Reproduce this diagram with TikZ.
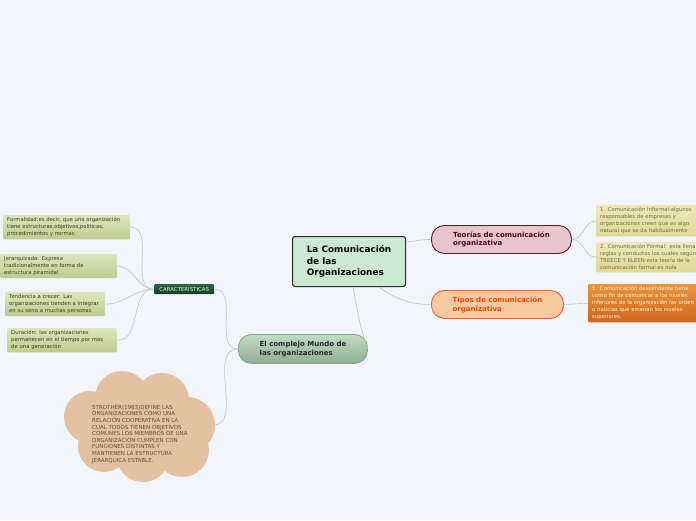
\documentclass[tikz,border=0pt]{standalone}
\usepackage{fontspec}
\setmainfont{DejaVu Sans}
\usetikzlibrary{positioning}
\definecolor{bgblue}{HTML}{F2F5FE}
\definecolor{linkgray}{HTML}{C2C4CC}
\definecolor{rootfill}{HTML}{CBE8D0}
\definecolor{rootline}{HTML}{2A2A2A}
\definecolor{teofill}{HTML}{E8C5CC}
\definecolor{teoline}{HTML}{5C1A2C}
\definecolor{teotext}{HTML}{4A0A1E}
\definecolor{tipfill}{HTML}{F9C9A0}
\definecolor{tipline}{HTML}{FF5A28}
\definecolor{tiptext}{HTML}{F04A10}
\definecolor{mundtop}{HTML}{C0DCC2}
\definecolor{mundbot}{HTML}{8FAE91}
\definecolor{mundline}{HTML}{8AA88C}
\definecolor{cartop}{HTML}{2E6242}
\definecolor{carbot}{HTML}{173C24}
\definecolor{leaftop}{HTML}{DDE5BB}
\definecolor{leafbot}{HTML}{BFCB90}
\definecolor{leaftext}{HTML}{3A3A20}
\definecolor{yeltop}{HTML}{EEE8B8}
\definecolor{yelbot}{HTML}{E0D898}
\definecolor{yeltext}{HTML}{6E6E40}
\definecolor{orgtop}{HTML}{EA943C}
\definecolor{orgbot}{HTML}{D0661A}
\definecolor{cloudfill}{HTML}{E3C1A1}
\definecolor{cloudtext}{HTML}{6A4C36}

\begin{document}
\begin{tikzpicture}[x=1pt,y=-1pt,
 link/.style={draw=linkgray,line width=0.6pt},
 root/.style={draw=rootline,fill=rootfill,line width=1.1pt,rounded corners=2.5pt,
  align=left,font=\bfseries\fontsize{8.9}{11.5}\selectfont,minimum width=113pt,
  minimum height=50pt,inner sep=0pt,anchor=north west},
 pill/.style={rounded corners=13pt,line width=0.9pt,align=left,
  font=\bfseries\fontsize{7}{9}\selectfont,minimum height=28pt,inner sep=0pt,anchor=north west},
 leaf/.style={top color=leaftop,bottom color=leafbot,text=leaftext,align=left,
  anchor=north west,font=\fontsize{5.3}{7}\selectfont,text width=#1,
  inner xsep=4pt,inner ysep=2.4pt,rounded corners=1pt},
 yleaf/.style={leaf=#1,top color=yeltop,bottom color=yelbot,text=yeltext},
 puff/.style={fill=cloudfill}]

\fill[bgblue] (0,0) rectangle (696,520);
\useasboundingbox (0,0) rectangle (696,520);

\node[root] (root) at (292,236) {La Comunicación\\de las\\Organizaciones};

\node[pill,draw=teoline,fill=teofill,text=teotext,minimum width=140pt] (teo) at (431,225)
 {Teorías de comunicación\\organizativa};
\node[pill,draw=tipline,fill=tipfill,text=tiptext,minimum width=132pt] (tip) at (431,290)
 {Tipos de comunicación\\organizativa};
\node[pill,draw=mundline,top color=mundtop,bottom color=mundbot,text=black!85,
 minimum width=129pt,minimum height=29pt] (mund) at (238,334)
 {El complejo Mundo de\\las organizaciones};

\node[yleaf=100pt] (inform) at (596,205) {1. Comunicación Informal:algunos\\responsables de empresas y\\organizaciones creen que es algo\\natural que se da habitualmente};
\node[yleaf=100pt] (formal) at (596,242) {2. Comunicación Formal: esta llena\\reglas y conductos los cuales según\\TREECE Y KLEEN esta teoría de la\\comunicación formal es nula};
\node[leaf=108pt,top color=orgtop,bottom color=orgbot,text=white!92!orange] (desc) at (588,284)
 {1. Comunicación descendente:tiene\\como fin de comunicar a los niveles\\inferiores de la organización las orden\\o noticias que emanan los niveles\\superiores.};

\node[top color=cartop,bottom color=carbot,text=white!85!green,rounded corners=1pt,
 font=\fontsize{5.4}{6}\selectfont,minimum width=60pt,minimum height=10pt,inner sep=0pt,
 anchor=north west] (car) at (154,284) {CARACTERÍSTICAS};

\node[leaf=119pt] (forma) at (3,215) {Formalidad:es decir, que una organización\\tiene estructuras,objetivos,politicas,\\procedimientos y normas};
\node[leaf=109pt] (jer) at (0,254) {Jerarquizada: Expresa\\tradicionalmente en forma de\\estructura piramidal};
\node[leaf=92pt] (tend) at (5,292) {Tendencia a crecer: Las\\organizaciones tienden a integrar\\en su seno a muchas personas};
\node[leaf=102pt] (dur) at (7,328) {Duración: las organizaciones\\permanecen en el tiempo por mas\\de una generación};

\foreach \cx/\cy/\r in {122/398/27,162/400/27,90/417/26,187/425/28,104/446/26,143/455/27,182/450/27}
 \fill[puff] (\cx,\cy) circle (\r);
\fill[puff] (140,425) ellipse (52 and 36);
\coordinate (cloudtip) at (213,425);
\node[text=cloudtext,align=left,anchor=north west,inner sep=0pt,
 font=\fontsize{5.5}{6.6}\selectfont] (stro) at (92,405)
 {STROTHER(1963)DEFINE LAS\\ORGANIZACIONES COMO UNA\\RELACIÓN COOPERATIVA EN LA\\CUAL TODOS TIENEN OBJETIVOS\\COMUNES.LOS MIEMBROS DE UNA\\ORGANIZACIÓN CUMPLEN CON\\FUNCIONES DISTINTAS Y\\MANTIENEN LA ESTRUCTURA\\JERARQUICA ESTABLE.};

\draw[link] ([yshift=-6pt]root.north east) to[out=5,in=180] (teo.west);
\draw[link] ([xshift=30pt]root.south) to[out=-35,in=180] (tip.west);
\draw[link] ([xshift=4pt]root.south) to[out=-80,in=110] (mund.east);
\draw[link] (teo.east) to[out=0,in=180] (inform.west);
\draw[link] (teo.east) to[out=0,in=180] (formal.west);
\draw[link] (tip.east) to[out=0,in=180] (desc.west);
\draw[link] (mund.west) to[out=180,in=0] (car.east);
\draw[link] (mund.west) to[out=180,in=0] (cloudtip);
\draw[link] (car.west) to[out=180,in=0] (forma.east);
\draw[link] (car.west) to[out=180,in=0] (jer.east);
\draw[link] (car.west) to[out=180,in=0] (tend.east);
\draw[link] (car.west) to[out=180,in=0] (dur.east);
\end{tikzpicture}
\end{document}
